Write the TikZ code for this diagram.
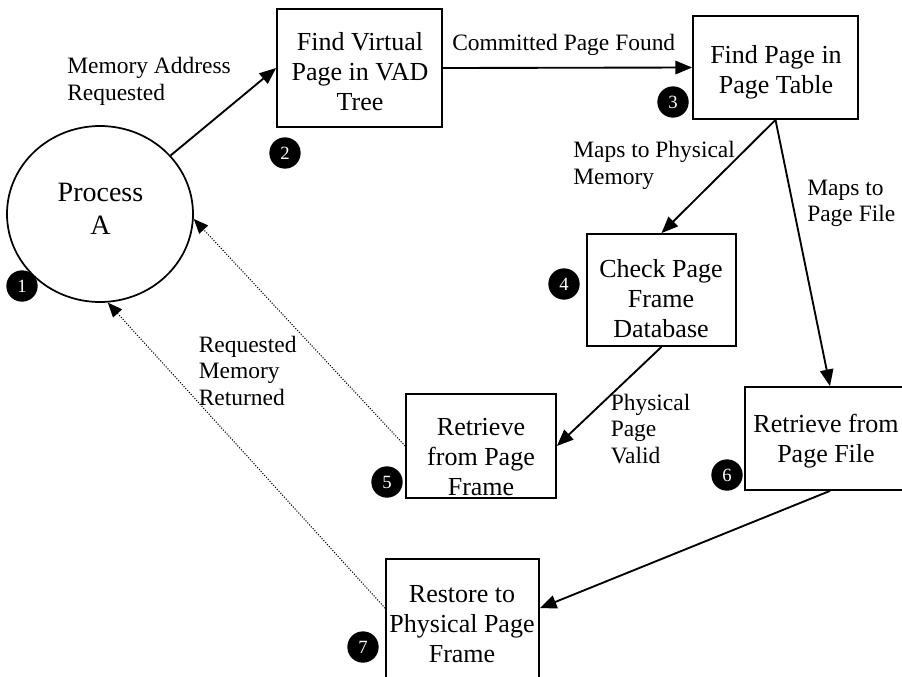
\documentclass[tikz,border=0pt]{standalone}
\usepackage{fontspec}
\setmainfont{Liberation Serif}
\usetikzlibrary{arrows.meta,shapes.geometric}
\begin{document}
\begin{tikzpicture}[x=0.75pt,y=-0.75pt,
  box/.style={draw,line width=1.3pt,rectangle,inner sep=0pt},
  boxtext/.style={anchor=north,inner sep=0pt,align=center,font=\fontsize{19.5}{22.5}\selectfont},
  lbl/.style={anchor=north west,inner sep=0pt,align=left,font=\fontsize{17.6}{19.9}\selectfont},
  badge/.style={circle,fill=black,minimum size=23.5pt,inner sep=0pt,text=white,font=\fontsize{14}{14}\selectfont},
  arr/.style={line width=1.4pt,-{Triangle[length=12.5pt,width=10pt]}},
  ret/.style={line width=0.8pt,dash pattern=on 0.8pt off 1.2pt,-{Triangle[length=11pt,width=9pt]}}]
\useasboundingbox (0,0) rectangle (902,676);

% process circle
\node[ellipse,draw,line width=1.3pt,minimum width=139.5pt,minimum height=132pt,inner sep=0pt] (pa) at (100,214) {};
\node[boxtext,font=\fontsize{21}{25}\selectfont] (tpa) at (100.5,183) {Process\\A};

% boxes
\node[box,minimum width=123.75pt,minimum height=88.5pt] (b2) at (359.5,68) {};
\node[boxtext] (t2) at (360,32.5) {Find Virtual\\Page in VAD\\Tree};

\node[box,minimum width=123.75pt,minimum height=77.25pt] (b3) at (775.5,67.5) {};
\node[boxtext] (t3) at (776,45) {Find Page in\\Page Table};

\node[box,minimum width=111.75pt,minimum height=84pt] (b4) at (661.5,290) {};
\node[boxtext] (t4) at (661,259.5) {Check Page\\Frame\\Database};

\node[box,minimum width=112.5pt,minimum height=78pt] (b5) at (481,446) {};
\node[boxtext] (t5) at (481,418) {Retrieve\\from Page\\Frame};

\node[box,minimum width=127.5pt,minimum height=77.25pt] (b6) at (830,438.5) {};
\node[boxtext] (t6) at (826,414) {Retrieve from\\Page File};

\node[box,minimum width=114.75pt,minimum height=105.75pt] (b7) at (462.5,629.5) {};
\node[boxtext] (t7) at (462,585.5) {Restore to\\Physical Page\\Frame};

% badges
\node[badge] (n1) at (22,286) {1};
\node[badge] (n2) at (285,153) {2};
\node[badge] (n3) at (673,102) {3};
\node[badge] (n4) at (564,284) {4};
\node[badge] (n5) at (387,482) {5};
\node[badge] (n6) at (727,475) {6};
\node[badge] (n7) at (363,647) {7};

% labels
\node[lbl] (l1) at (67,57) {Memory Address\\Requested};
\node[lbl] (l2) at (452,34) {Committed Page Found};
\node[lbl] (l3) at (573,141) {Maps to Physical\\Memory};
\node[lbl] (l4) at (807,179.5) {Maps to\\Page File};
\node[lbl] (l5) at (610.5,393.5) {Physical\\Page\\Valid};
\node[lbl] (l6) at (198.5,335.5) {Requested\\Memory\\Returned};

% connectors
\draw[arr] (pa) -- (b2.west);
\draw[arr] (b2.east) -- (b3.west);
\draw[arr] (b3.south) -- (b4.north);
\draw[arr] (b3.south) -- (b6.north);
\draw[arr] (b4.south) -- (b5.east);
\draw[arr] (b6.south) -- ([yshift=16pt]b7.east);
\draw[ret] (b5.west) -- (pa.-3);
\draw[ret] ([yshift=16pt]b7.west) -- (pa.-85);
\end{tikzpicture}
\end{document}
